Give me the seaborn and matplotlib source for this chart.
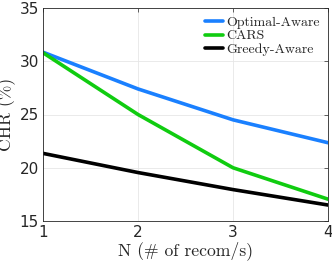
import matplotlib
matplotlib.use("Agg")
import matplotlib.pyplot as plt
import seaborn as sns
import pandas as pd

N = [1, 2, 3, 4]
optimal_aware = [30.85, 27.4, 24.5, 22.35]
cars = [30.8, 25.0, 20.0, 17.05]
greedy_aware = [21.35, 19.55, 17.95, 16.5]
series_names = ["Optimal-Aware", "CARS", "Greedy-Aware"]

df = pd.DataFrame({
    "N": N * 3,
    "CHR": optimal_aware + cars + greedy_aware,
    "series": [series_names[0]] * 4 + [series_names[1]] * 4 + [series_names[2]] * 4,
})

sns.set_style("white")
plt.rcParams["font.family"] = ["DejaVu Sans"]
plt.rcParams["axes.unicode_minus"] = False

fig = plt.figure(figsize=(3.32, 2.62), dpi=100)
ax = fig.add_axes([43/332, 1 - 221/262, (328-43)/332, (221-8)/262])

palette = {"Optimal-Aware": "#1a80ff", "CARS": "#10cc10", "Greedy-Aware": "#000000"}
sns.lineplot(data=df, x="N", y="CHR", hue="series", palette=palette,
             linewidth=2.6, ax=ax, legend=True)

ax.set_xlim(1, 4)
ax.set_ylim(15, 35)
ax.set_xticks([1, 2, 3, 4])
ax.set_yticks([15, 20, 25, 30, 35])
ax.grid(True, color="#e6e6e6", linewidth=0.6)
ax.tick_params(direction="in", length=3, labelsize=11, top=True, right=True,
               colors="#262626", pad=3, width=0.5)
for lab in ax.get_xticklabels() + ax.get_yticklabels():
    lab.set_color("#262626")
for s in ax.spines.values():
    s.set_color("#262626")
    s.set_linewidth(0.6)

ax.set_xlabel("N (# of recom/s)", fontfamily="cmr10", fontsize=12.7, labelpad=1)
ax.set_ylabel("CHR (%)", fontfamily="cmr10", fontsize=12.7, labelpad=0)
ax.yaxis.set_label_coords(-0.095, 0.5)

leg = ax.legend(loc="upper right", frameon=False, prop={"family": "cmr10", "size": 10},
                handlelength=1.3, handletextpad=0.2, labelspacing=0.05,
                borderaxespad=0.2)
for line in leg.get_lines():
    line.set_linewidth(2.6)

fig.savefig("out.png", dpi=100)
